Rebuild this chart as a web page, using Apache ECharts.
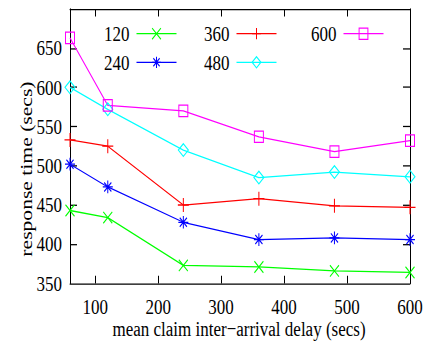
<!DOCTYPE html>
<html>
<head>
<meta charset="utf-8">
<script src="https://cdn.jsdelivr.net/npm/echarts@6/dist/echarts.min.js"></script>
<style>
  html, body { margin: 0; padding: 0; background: #fff; width: 433px; height: 347px; }
  /* the figure is drawn in a shorter box and stretched vertically,
     giving the tall, narrow lettering of the printed plot */
  #chart { width: 433px; height: 273px; transform: scaleY(1.2711); transform-origin: 0 0; }
</style>
</head>
<body>
<div id="chart"></div>
<script>
// mean claim inter-arrival delay (secs)
const delays = [60, 120, 240, 360, 480, 600];
// response time (secs) for each claim series
const names = ['120', '240', '360', '480', '600'];
const resp120 = [443, 434, 373, 371, 366, 364];
const resp240 = [502, 473, 428, 406, 408, 406];
const resp360 = [533, 525, 450, 458, 449, 447];
const resp480 = [600, 572, 520, 485, 492, 486];
const resp600 = [663, 577, 570, 537, 518, 532];
const xTicks = [100, 200, 300, 400, 500, 600];
const yTicks = [350, 400, 450, 500, 550, 600, 650];

const FONT = 'Liberation Serif';
const FS = 17;
const colors = ['#00ff00', '#0000ff', '#ff0000', '#00ffff', '#ff00ff'];
const marks = [
  'path://M0,0L10,10M10,0L0,10',
  'path://M0,0L10,10M10,0L0,10M5,-2L5,12M-2,5L12,5',
  'path://M5,0L5,10M0,5L10,5',
  'path://M5,0L10,5L5,10L0,5Z',
  'path://M0,0L10,0L10,10L0,10Z'
];
const markSizes = [9, 10, 11, 10, 9];
const values = [resp120, resp240, resp360, resp480, resp600];

const series = names.map((n, i) => ({
  name: n,
  type: 'line',
  data: delays.map((x, k) => [x, values[i][k]]),
  symbol: marks[i],
  symbolSize: markSizes[i],
  showAllSymbol: true,
  animation: false,
  lineStyle: { color: colors[i], width: 1 },
  itemStyle: { color: 'none', borderColor: colors[i], borderWidth: 1 },
  emphasis: { disabled: true }
}));

const axisText = { fontFamily: FONT, fontSize: FS, color: '#000' };
const black = { lineStyle: { color: '#000', width: 1 } };

function xAxis(pos, labels) {
  return {
    type: 'value', position: pos, min: 60, max: 600,
    splitLine: { show: false },
    axisLine: Object.assign({ show: true, onZero: false }, black),
    axisTick: Object.assign({ show: true, inside: true, length: 6, customValues: [100, 200, 300, 400, 500] }, black),
    axisLabel: Object.assign({ show: labels, margin: 10, customValues: xTicks }, axisText)
  };
}
function yAxis(pos, labels) {
  return {
    type: 'value', position: pos, min: 350, max: 700,
    splitLine: { show: false },
    axisLine: Object.assign({ show: true, onZero: false }, black),
    axisTick: Object.assign({ show: true, inside: true, length: 7, customValues: [400, 450, 500, 550, 600, 650] }, black),
    axisLabel: Object.assign({ show: labels, margin: 8, padding: [10, 0, 0, 0], customValues: yTicks }, axisText)
  };
}

const legendBase = {
  orient: 'vertical', align: 'right', padding: 0,
  itemWidth: 40, itemHeight: 11, itemGap: 5.5,
  itemStyle: { borderWidth: 1 },
  lineStyle: { width: 1 },
  textStyle: { fontFamily: FONT, fontSize: FS, color: '#000', padding: [0, 2, 0, 0] },
  selectedMode: false, top: 18
};

const chart = echarts.init(document.getElementById('chart'), null, { renderer: 'svg' });
chart.setOption({
  backgroundColor: '#fff',
  animation: false,
  grid: { left: 70, right: 23, top: 7, bottom: 50 },
  xAxis: [xAxis('bottom', true), xAxis('top', false)],
  yAxis: [yAxis('left', true), yAxis('right', false)],
  legend: [
    Object.assign({}, legendBase, { left: 104, data: ['120', '240'] }),
    Object.assign({}, legendBase, { left: 204, data: ['360', '480'] }),
    Object.assign({}, legendBase, { left: 311, data: ['600'] })
  ],
  graphic: [
    { type: 'text', x: 26, y: 133, rotation: Math.PI / 2,
      style: { text: 'response time (secs)', font: FS + 'px "Liberation Serif"', fill: '#000', align: 'center', verticalAlign: 'middle' } },
    { type: 'text', x: 239, y: 259,
      style: { text: 'mean claim inter\u2212arrival delay (secs)', font: FS + 'px "Liberation Serif"', fill: '#000', align: 'center', verticalAlign: 'middle' } }
  ],
  series: series
});
</script>
</body>
</html>
